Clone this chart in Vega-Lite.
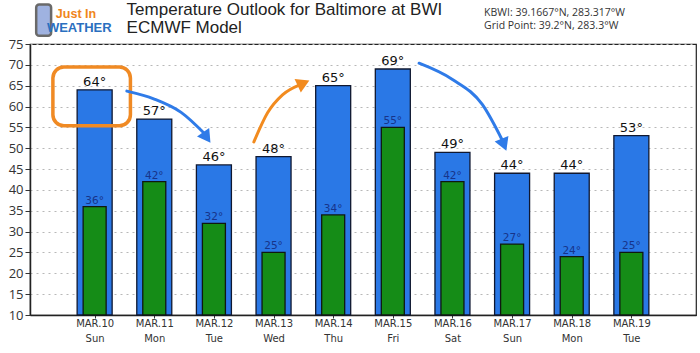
{
  "$schema": "https://vega.github.io/schema/vega-lite/v6.json",
  "autosize": {"type": "none"},
  "width": 666,
  "height": 271,
  "padding": {"left": 30, "top": 44, "right": 4, "bottom": 38},
  "background": "white",
  "config": {
    "view": {"stroke": "#222", "strokeWidth": 1.2},
    "font": "DejaVu Sans"
  },
  "datasets": {
    "temps": [
      {"i": 1, "date": "MAR.10", "day": "Sun", "high": 64, "low": 36},
      {"i": 2, "date": "MAR.11", "day": "Mon", "high": 57, "low": 42},
      {"i": 3, "date": "MAR.12", "day": "Tue", "high": 46, "low": 32},
      {"i": 4, "date": "MAR.13", "day": "Wed", "high": 48, "low": 25},
      {"i": 5, "date": "MAR.14", "day": "Thu", "high": 65, "low": 34},
      {"i": 6, "date": "MAR.15", "day": "Fri", "high": 69, "low": 55},
      {"i": 7, "date": "MAR.16", "day": "Sat", "high": 49, "low": 42},
      {"i": 8, "date": "MAR.17", "day": "Sun", "high": 44, "low": 27},
      {"i": 9, "date": "MAR.18", "day": "Mon", "high": 44, "low": 24},
      {"i": 10, "date": "MAR.19", "day": "Tue", "high": 53, "low": 25}
    ],
    "arrows": [
      {"arrow": "a1", "x": 1.54, "y": 63.7},
      {"arrow": "a1", "x": 2.0, "y": 61.8},
      {"arrow": "a1", "x": 2.45, "y": 58.6},
      {"arrow": "a1", "x": 2.85, "y": 53.4},
      {"arrow": "a2", "x": 3.67, "y": 51.5},
      {"arrow": "a2", "x": 3.9, "y": 58.5},
      {"arrow": "a2", "x": 4.15, "y": 62.8},
      {"arrow": "a2", "x": 4.44, "y": 65.2},
      {"arrow": "a3", "x": 6.44, "y": 70.4},
      {"arrow": "a3", "x": 7.0, "y": 66.5},
      {"arrow": "a3", "x": 7.5, "y": 60.5},
      {"arrow": "a3", "x": 7.84, "y": 51.8}
    ],
    "heads": [
      {"arrow": "a1", "x": 2.86, "y": 53.0, "angle": 145},
      {"arrow": "a2", "x": 4.47, "y": 65.4, "angle": 65},
      {"arrow": "a3", "x": 7.85, "y": 51.3, "angle": 158}
    ],
    "box": [{"x": 0.3, "x2": 1.6, "y": 69.5, "y2": 55.4}],
    "titles": [
      {"t": "Temperature Outlook for Baltimore at BWI", "x": 1.536, "y": 81.96},
      {"t": "ECMWF Model", "x": 1.536, "y": 77.64}
    ],
    "header": [
      {"t": "KBWI: 39.1667°N, 283.317°W", "x": 7.53, "y": 81.7},
      {"t": "Grid Point: 39.2°N, 283.3°W", "x": 7.53, "y": 78.5}
    ],
    "logo": [
      {"t": "Just In", "x": 0.35, "y": 81.3, "kind": "just"},
      {"t": "WEATHER", "x": 0.2, "y": 77.9, "kind": "weather"}
    ],
    "phone": [{"x": 0.02, "x2": 0.27, "y": 84.5, "y2": 77.0}]
  },
  "layer": [
    {
      "data": {"name": "temps"},
      "mark": {"type": "bar", "size": 35, "color": "#2a78e6", "stroke": "#101830", "strokeWidth": 1.3},
      "encoding": {
        "x": {
          "field": "i", "type": "quantitative",
          "scale": {"domain": [0, 11], "nice": false, "zero": false},
          "axis": {
            "values": [1, 2, 3, 4, 5, 6, 7, 8, 9, 10], "tickCount": 20,
            "labelExpr": "[['MAR.10','Sun'],['MAR.11','Mon'],['MAR.12','Tue'],['MAR.13','Wed'],['MAR.14','Thu'],['MAR.15','Fri'],['MAR.16','Sat'],['MAR.17','Sun'],['MAR.18','Mon'],['MAR.19','Tue']][datum.value-1]",
            "title": null, "grid": false, "labelOverlap": false,
            "labelFont": "DejaVu Sans", "labelFontSize": 10, "labelColor": "#333",
            "labelLineHeight": 15, "labelPadding": 0,
            "tickSize": 3, "tickColor": "#333",
            "domainColor": "#222", "domainWidth": 1.5
          }
        },
        "y": {
          "field": "high", "type": "quantitative",
          "scale": {"domain": [10, 75], "nice": false, "zero": false},
          "axis": {
            "values": [10, 15, 20, 25, 30, 35, 40, 45, 50, 55, 60, 65, 70, 75], "tickCount": 20,
            "title": null, "labelOverlap": false,
            "grid": true, "gridColor": "#b8b8b8", "gridDash": [2, 4], "gridWidth": 1,
            "labelFont": "Open Sans", "labelFontSize": 13, "labelColor": "#333",
            "labelPadding": 2, "tickSize": 5, "tickColor": "#333",
            "domainColor": "#222", "domainWidth": 1.5
          }
        },
        "y2": {"datum": 10}
      }
    },
    {
      "data": {"name": "temps"},
      "mark": {"type": "bar", "size": 23, "color": "#158c17", "stroke": "#101810", "strokeWidth": 1.3},
      "encoding": {
        "x": {"field": "i", "type": "quantitative"},
        "y": {"field": "low", "type": "quantitative"},
        "y2": {"datum": 10}
      }
    },
    {
      "data": {"name": "temps"},
      "transform": [{"calculate": "datum.high + '°'", "as": "hl"}],
      "mark": {"type": "text", "baseline": "bottom", "dy": -1, "font": "DejaVu Sans", "fontSize": 13, "color": "#111"},
      "encoding": {
        "x": {"field": "i", "type": "quantitative"},
        "y": {"field": "high", "type": "quantitative"},
        "text": {"field": "hl"}
      }
    },
    {
      "data": {"name": "temps"},
      "transform": [{"calculate": "datum.low + '°'", "as": "ll"}],
      "mark": {"type": "text", "baseline": "bottom", "dy": -1, "font": "DejaVu Sans", "fontSize": 10.5, "color": "#17348a"},
      "encoding": {
        "x": {"field": "i", "type": "quantitative"},
        "y": {"field": "low", "type": "quantitative"},
        "text": {"field": "ll"}
      }
    },
    {
      "data": {"name": "box"},
      "mark": {"type": "rect", "fill": null, "fillOpacity": 0, "stroke": "#f08a24", "strokeWidth": 3.5, "cornerRadius": 11},
      "encoding": {
        "x": {"field": "x", "type": "quantitative"},
        "x2": {"field": "x2"},
        "y": {"field": "y", "type": "quantitative"},
        "y2": {"field": "y2"}
      }
    },
    {
      "data": {"name": "arrows"},
      "mark": {"type": "line", "interpolate": "monotone", "strokeWidth": 3, "strokeCap": "round"},
      "encoding": {
        "x": {"field": "x", "type": "quantitative"},
        "y": {"field": "y", "type": "quantitative"},
        "color": {"field": "arrow", "type": "nominal", "scale": {"domain": ["a1", "a2", "a3", "just", "weather"], "range": ["#2f7be8", "#f28b1f", "#2f7be8", "#f0861c", "#2a6fc0"]}, "legend": null}
      }
    },
    {
      "data": {"name": "heads"},
      "mark": {"type": "point", "shape": "triangle", "filled": true, "size": 220, "opacity": 1},
      "encoding": {
        "x": {"field": "x", "type": "quantitative"},
        "y": {"field": "y", "type": "quantitative"},
        "angle": {"field": "angle", "type": "quantitative", "scale": null},
        "color": {"field": "arrow", "type": "nominal", "scale": {"domain": ["a1", "a2", "a3", "just", "weather"], "range": ["#2f7be8", "#f28b1f", "#2f7be8", "#f0861c", "#2a6fc0"]}, "legend": null}
      }
    },
    {
      "data": {"name": "titles"},
      "mark": {"type": "text", "align": "left", "baseline": "alphabetic", "font": "Liberation Sans", "fontSize": 17, "color": "#222"},
      "encoding": {
        "x": {"field": "x", "type": "quantitative"},
        "y": {"field": "y", "type": "quantitative"},
        "text": {"field": "t"}
      }
    },
    {
      "data": {"name": "header"},
      "mark": {"type": "text", "align": "left", "baseline": "alphabetic", "font": "Open Sans", "fontSize": 10.5, "color": "#333"},
      "encoding": {
        "x": {"field": "x", "type": "quantitative"},
        "y": {"field": "y", "type": "quantitative"},
        "text": {"field": "t"}
      }
    },
    {
      "data": {"name": "phone"},
      "mark": {"type": "rect", "fill": "#9fb2e0", "stroke": "#6a6a6a", "strokeWidth": 2.5, "cornerRadius": 3},
      "encoding": {
        "x": {"field": "x", "type": "quantitative"},
        "x2": {"field": "x2"},
        "y": {"field": "y", "type": "quantitative"},
        "y2": {"field": "y2"}
      }
    },
    {
      "data": {"name": "logo"},
      "mark": {"type": "text", "align": "left", "baseline": "alphabetic", "font": "Liberation Sans", "fontWeight": "bold"},
      "encoding": {
        "x": {"field": "x", "type": "quantitative"},
        "y": {"field": "y", "type": "quantitative"},
        "text": {"field": "t"},
        "size": {"field": "kind", "type": "nominal", "scale": {"domain": ["just", "weather"], "range": [12.5, 13]}, "legend": null},
        "color": {"field": "kind", "type": "nominal", "scale": {"domain": ["a1", "a2", "a3", "just", "weather"], "range": ["#2f7be8", "#f28b1f", "#2f7be8", "#f0861c", "#2a6fc0"]}, "legend": null}
      }
    }
  ]
}
